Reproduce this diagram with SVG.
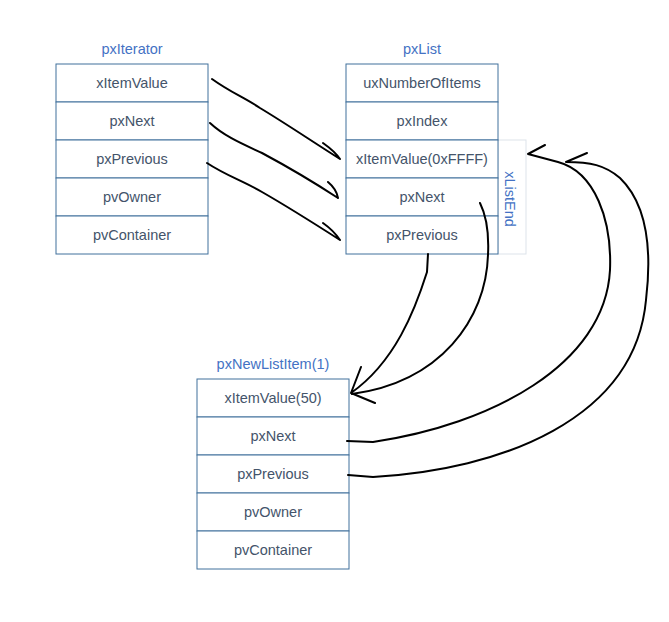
<svg xmlns="http://www.w3.org/2000/svg" width="669" height="622" viewBox="0 0 669 622">
<style>
.cell{fill:#fff;stroke:#41719C;stroke-width:1}
.t{font-family:"Liberation Sans",Arial,sans-serif;font-size:14.5px;fill:#44546A;text-anchor:middle;dominant-baseline:central}
.title{font-family:"Liberation Sans",Arial,sans-serif;font-size:14.5px;fill:#4472C4;text-anchor:middle}
.ink{fill:none;stroke:#000;stroke-width:2;stroke-linecap:round;stroke-linejoin:round}
</style>
<rect width="669" height="622" fill="#fff"/>
<g id="pxIterator">
<text class="title" x="132" y="54">pxIterator</text>
<rect class="cell" x="56" y="64" width="152" height="38"/>
<rect class="cell" x="56" y="102" width="152" height="38"/>
<rect class="cell" x="56" y="140" width="152" height="38"/>
<rect class="cell" x="56" y="178" width="152" height="38"/>
<rect class="cell" x="56" y="216" width="152" height="38"/>
<text class="t" x="132" y="83">xItemValue</text>
<text class="t" x="132" y="121">pxNext</text>
<text class="t" x="132" y="159">pxPrevious</text>
<text class="t" x="132" y="197">pvOwner</text>
<text class="t" x="132" y="235">pvContainer</text>
</g>
<g id="xListEnd">
<rect x="498" y="140" width="28" height="114" fill="#fff" stroke="#DDE3EA" stroke-width="1"/>
<text class="title" x="0" y="0" transform="translate(510,199) rotate(90)" dominant-baseline="central">xListEnd</text>
</g>
<g id="pxList">
<text class="title" x="422" y="54">pxList</text>
<rect class="cell" x="346" y="64" width="152" height="38"/>
<rect class="cell" x="346" y="102" width="152" height="38"/>
<rect class="cell" x="346" y="140" width="152" height="38"/>
<rect class="cell" x="346" y="178" width="152" height="38"/>
<rect class="cell" x="346" y="216" width="152" height="38"/>
<text class="t" x="422" y="83">uxNumberOfItems</text>
<text class="t" x="422" y="121">pxIndex</text>
<text class="t" x="422" y="159">xItemValue(0xFFFF)</text>
<text class="t" x="422" y="197">pxNext</text>
<text class="t" x="422" y="235">pxPrevious</text>
</g>
<g id="pxNewListItem">
<text class="title" x="273" y="369">pxNewListItem(1)</text>
<rect class="cell" x="197" y="379" width="152" height="38"/>
<rect class="cell" x="197" y="417" width="152" height="38"/>
<rect class="cell" x="197" y="455" width="152" height="38"/>
<rect class="cell" x="197" y="493" width="152" height="38"/>
<rect class="cell" x="197" y="531" width="152" height="38"/>
<text class="t" x="273" y="398">xItemValue(50)</text>
<text class="t" x="273" y="436">pxNext</text>
<text class="t" x="273" y="474">pxPrevious</text>
<text class="t" x="273" y="512">pvOwner</text>
<text class="t" x="273" y="550">pvContainer</text>
</g>
<g id="connectors">
<path class="ink" d="M212,79 C230,92 245,98 260,108 C285,123 310,140 340,159 M323,143 C330,148 336,153 340,159"/>
<path class="ink" d="M210,123 C225,137 245,145 262,153 C290,168 315,183 338,198 M328,182 C334,187 337,192 338,198"/>
<path class="ink" d="M207,163 C225,175 245,182 262,192 C290,208 315,224 340,240 M323,223 C330,228 336,234 340,240"/>
<path class="ink" d="M428,254 L427,272 C415,310 395,362 351,393 M361,367 L351,393 L375,403"/>
<path class="ink" d="M480,203 C486,215 489,235 488,255 C486,320 440,382 352,394"/>
<path class="ink" d="M347,441 L373,442 C490,425 605,365 610,270 C612,220 595,172 558,162 L528,154 L545,145"/>
<path class="ink" d="M348,475 L373,477 C500,470 635,420 646,300 C652,250 648,205 620,178 C605,165 590,162 566,162 L587,153"/>
</g>
</svg>
